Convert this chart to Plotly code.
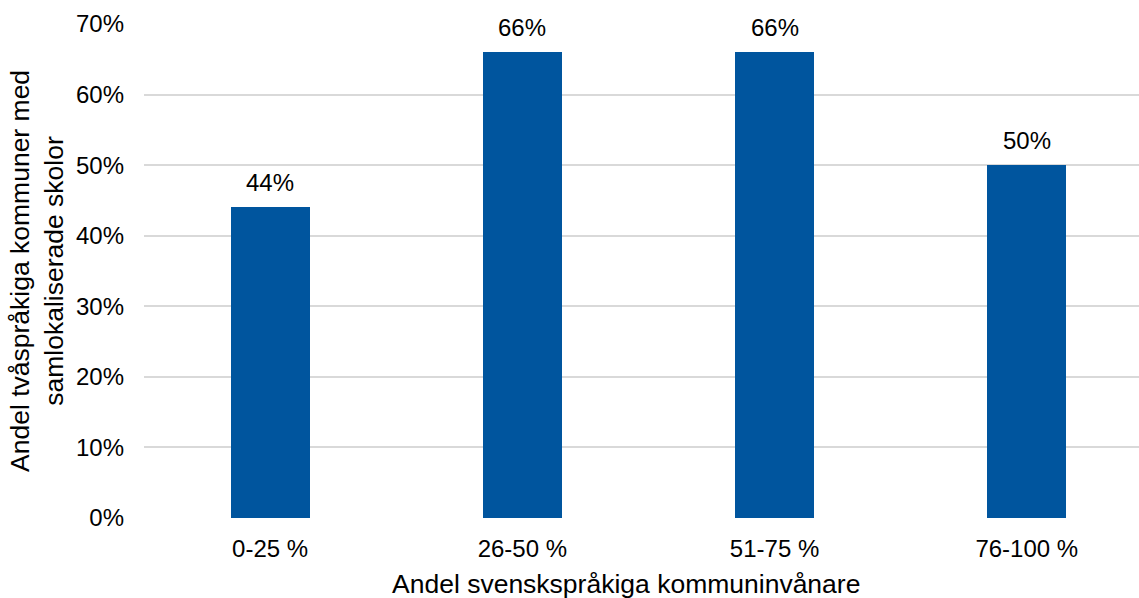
import plotly.graph_objects as go

categories = ["0-25 %", "26-50 %", "51-75 %", "76-100 %"]
values = [0.44, 0.66, 0.66, 0.50]
value_labels = ["44%", "66%", "66%", "50%"]
y_ticks = [0, 0.1, 0.2, 0.3, 0.4, 0.5, 0.6, 0.7]
y_tick_labels = ["0%", "10%", "20%", "30%", "40%", "50%", "60%", "70%"]
x_title = "Andel svenskspråkiga kommuninvånare"
y_title = "Andel tvåspråkiga kommuner med<br>samlokaliserade skolor"

FONT = "Liberation Sans, Arial, sans-serif"
TXT = "#000000"

fig = go.Figure()
fig.add_trace(go.Bar(
    x=categories, y=values, width=0.313,
    marker=dict(color="#00559E", line=dict(width=0)),
    hoverinfo="skip",
))

for c, v, t in zip(categories, values, value_labels):
    fig.add_annotation(x=c, y=v, text=t, showarrow=False, xref="x", yref="y",
                       yanchor="bottom", yshift=9,
                       font=dict(family=FONT, size=24, color=TXT))

fig.add_annotation(x=0.5, y=0, xref="paper", yref="paper", text=x_title,
                   showarrow=False, yanchor="middle", yshift=-66, xshift=-16,
                   font=dict(family=FONT, size=26.5, color=TXT))
fig.add_annotation(x=0, y=0.5, xref="paper", yref="paper", text=y_title,
                   showarrow=False, textangle=-90, xanchor="center",
                   xshift=-107,
                   font=dict(family=FONT, size=26.5, color=TXT))

fig.update_layout(
    width=1139, height=598,
    margin=dict(l=144, r=0, t=24, b=80),
    paper_bgcolor="white", plot_bgcolor="white",
    showlegend=False,
    bargap=0,
    xaxis=dict(type="category", range=[-0.5, 3.445], showgrid=False,
               showline=False, zeroline=False, ticks="",
               tickfont=dict(family=FONT, size=24, color=TXT),
               ticklabelstandoff=14),
    yaxis=dict(range=[0, 0.7], tickvals=y_ticks, ticktext=y_tick_labels,
               showgrid=True, gridcolor="#D9D9D9", gridwidth=1.5,
               zeroline=False, showline=False, ticks="",
               tickfont=dict(family=FONT, size=24, color=TXT),
               ticklabelstandoff=19),
)

fig.write_html("out.html")
